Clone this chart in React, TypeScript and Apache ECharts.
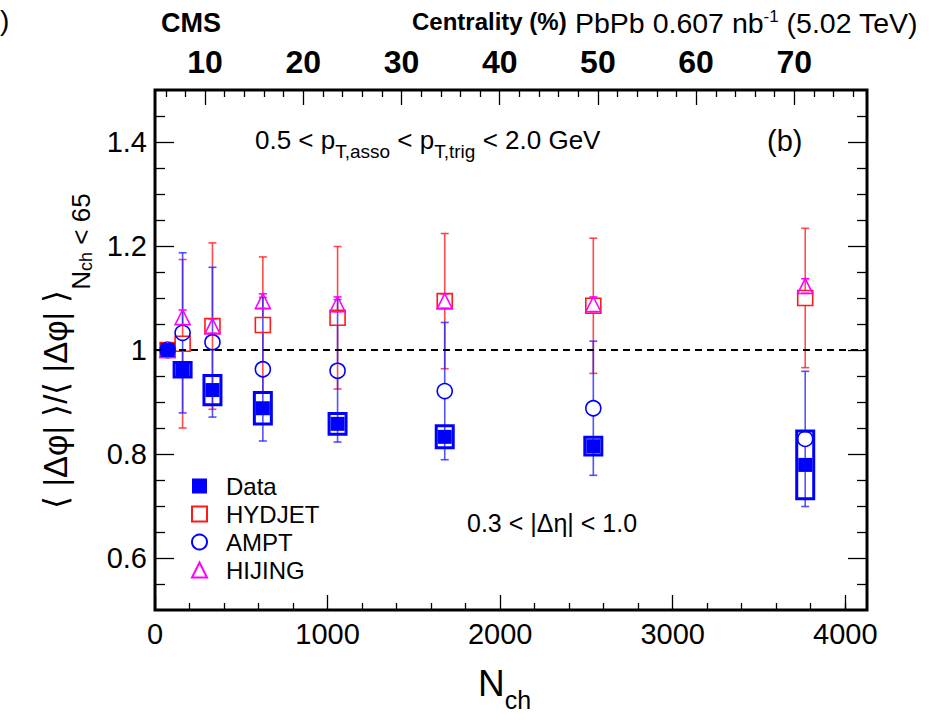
import React, { useEffect, useRef } from 'react';
import * as echarts from 'echarts';

const F = '"Liberation Sans", Arial, Helvetica, sans-serif';

// N_ch positions of the centrality classes
const nch = [73, 160, 333, 625, 1058, 1679, 2540, 3768];
// CMS data
const dataVal = [1.0, 0.962, 0.923, 0.888, 0.858, 0.833, 0.815, 0.779];
const dataSys = [0.0, 0.017, 0.031, 0.033, 0.023, 0.024, 0.020, 0.068];
// Models
const hydjetVal = [1.0, 1.012, 1.046, 1.048, 1.062, 1.094, 1.085, 1.100];
const hydjetErr = [0.0, 0.162, 0.160, 0.131, 0.137, 0.130, 0.130, 0.134];
const amptVal = [1.0, 1.033, 1.015, 0.963, 0.960, 0.921, 0.888, 0.829];
const amptErr = [0.0, 0.154, 0.144, 0.138, 0.137, 0.132, 0.129, 0.130];
const hijingVal = [1.0, 1.063, 1.046, 1.094, 1.088, 1.094, 1.088, 1.123];
const hijingErr = [0.0, 0.014, 0.014, 0.014, 0.014, 0.014, 0.014, 0.014];

// Axis ticks
const xMajor = [0, 1000, 2000, 3000, 4000];
const xMinor = [200, 400, 600, 800, 1200, 1400, 1600, 1800, 2200, 2400, 2600, 2800, 3200, 3400, 3600, 3800, 4000];
const centMajor = [10, 20, 30, 40, 50, 60, 70];
const centMinor = [6, 8, 12, 14, 16, 18, 22, 24, 26, 28, 32, 34, 36, 38, 42, 44, 46, 48, 52, 54, 56, 58, 62, 64, 66, 68, 72, 74, 76];
const yMajor = [0.6, 0.8, 1.0, 1.2, 1.4];
const yMinor = [0.55, 0.65, 0.7, 0.75, 0.85, 0.9, 0.95, 1.05, 1.1, 1.15, 1.25, 1.3, 1.35, 1.45];

const X_MIN = 0, X_MAX = 4126;
const C_MIN = 4.9, C_MAX = 77.4;
const Y_MIN = 0.5, Y_MAX = 1.5;

const RED = '#ff1a1a';
const BLUE = '#0000ff';
const MAG = '#ff00ff';

function errRender(color: string, gap: number) {
  return (params: any, api: any) => {
    const x = api.value(0), y = api.value(1), e = api.value(2);
    if (!e) return { type: 'group', children: [] };
    const c = api.coord([x, y]);
    const t = api.coord([x, y + e]);
    const b = api.coord([x, y - e]);
    const style = { stroke: color, lineWidth: 1.6 };
    const ch: any[] = [];
    if (t[1] < c[1] - gap) ch.push({ type: 'line', shape: { x1: c[0], y1: t[1], x2: c[0], y2: c[1] - gap }, style });
    if (b[1] > c[1] + gap) ch.push({ type: 'line', shape: { x1: c[0], y1: c[1] + gap, x2: c[0], y2: b[1] }, style });
    ch.push({ type: 'line', shape: { x1: c[0] - 4, y1: t[1], x2: c[0] + 4, y2: t[1] }, style });
    ch.push({ type: 'line', shape: { x1: c[0] - 4, y1: b[1], x2: c[0] + 4, y2: b[1] }, style });
    return { type: 'group', children: ch };
  };
}

function boxRender(params: any, api: any) {
  const x = api.value(0), y = api.value(1), s = api.value(2);
  if (!s) return { type: 'group', children: [] };
  const t = api.coord([x, y + s]);
  const b = api.coord([x, y - s]);
  const w = 20, lw = 3;
  return {
    type: 'rect',
    shape: { x: t[0] - w / 2 + lw / 2, y: t[1] + lw / 2, width: w - lw, height: b[1] - t[1] - lw },
    style: { fill: 'none', stroke: BLUE, lineWidth: lw },
  };
}

function valueAxis(extra: any) {
  return {
    type: 'value',
    splitLine: { show: false },
    axisLine: { show: false, onZero: false },
    ...extra,
  };
}

const tickStyle = { color: '#000', width: 1.3 };

export default function App() {
  const ref = useRef<HTMLDivElement>(null);
  useEffect(() => {
    document.body.style.margin = '0';
    const chart = echarts.init(ref.current!, null, { renderer: 'svg' });
    const option: any = {
      animation: false,
      backgroundColor: '#fff',
      grid: { left: 155, right: 71, top: 90, bottom: 110, show: true, borderColor: '#000', borderWidth: 3, backgroundColor: 'transparent' },
      xAxis: [
        valueAxis({
          position: 'bottom', min: X_MIN, max: X_MAX,
          axisTick: { inside: true, length: 15, lineStyle: tickStyle, customValues: xMajor },
          axisLabel: { customValues: xMajor, fontSize: 29, color: '#000', fontFamily: F, margin: 9, formatter: (v: number) => String(v) },
        }),
        valueAxis({
          position: 'bottom', min: X_MIN, max: X_MAX,
          axisTick: { inside: true, length: 7, lineStyle: tickStyle, customValues: xMinor },
          axisLabel: { show: false },
        }),
        valueAxis({
          position: 'top', min: C_MIN, max: C_MAX,
          axisTick: { inside: true, length: 15, lineStyle: tickStyle, customValues: centMajor },
          axisLabel: { customValues: centMajor, fontSize: 32, fontWeight: 'bold', color: '#000', fontFamily: F, margin: 12, formatter: (v: number) => String(v) },
        }),
        valueAxis({
          position: 'top', min: C_MIN, max: C_MAX,
          axisTick: { inside: true, length: 7, lineStyle: tickStyle, customValues: centMinor },
          axisLabel: { show: false },
        }),
      ],
      yAxis: [
        valueAxis({
          position: 'left', min: Y_MIN, max: Y_MAX,
          axisTick: { inside: true, length: 19, lineStyle: tickStyle, customValues: yMajor },
          axisLabel: { customValues: yMajor, fontSize: 29, color: '#000', fontFamily: F, margin: 8, formatter: (v: number) => String(v) },
        }),
        valueAxis({
          position: 'left', min: Y_MIN, max: Y_MAX,
          axisTick: { inside: true, length: 10, lineStyle: tickStyle, customValues: yMinor },
          axisLabel: { show: false },
        }),
        valueAxis({
          position: 'right', min: Y_MIN, max: Y_MAX,
          axisTick: { inside: true, length: 19, lineStyle: tickStyle, customValues: yMajor },
          axisLabel: { show: false },
        }),
        valueAxis({
          position: 'right', min: Y_MIN, max: Y_MAX,
          axisTick: { inside: true, length: 10, lineStyle: tickStyle, customValues: yMinor },
          axisLabel: { show: false },
        }),
      ],
      legend: {
        data: ['Data', 'HYDJET', 'AMPT', 'HIJING'],
        left: 191, top: 474, orient: 'vertical', itemWidth: 15, itemHeight: 15, itemGap: 4,
        selectedMode: false, padding: 0,
        textStyle: { fontSize: 24, lineHeight: 24, color: '#000', fontFamily: F, padding: [0, 0, 0, 14] },
      },
      series: [
        {
          name: 'ref', type: 'line', data: [], z: 1,
          markLine: {
            silent: true, symbol: 'none', label: { show: false },
            lineStyle: { type: [7, 5], color: '#000', width: 2.2 },
            data: [{ yAxis: 1 }],
          },
        },
        {
          name: 'hydjetErr', type: 'custom', z: 2,
          renderItem: errRender('rgba(255,30,30,0.8)', 7.5),
          data: nch.map((x, i) => [x, hydjetVal[i], hydjetErr[i]]),
        },
        {
          name: 'amptErr', type: 'custom', z: 2,
          renderItem: errRender('rgba(40,40,255,0.8)', 7.5),
          data: nch.map((x, i) => [x, amptVal[i], amptErr[i]]),
        },
        {
          name: 'hijingErr', type: 'custom', z: 2,
          renderItem: errRender(MAG, 7.5),
          data: nch.map((x, i) => [x, hijingVal[i], hijingErr[i]]),
        },
        {
          name: 'dataBox', type: 'custom', z: 3,
          renderItem: boxRender,
          data: nch.map((x, i) => [x, dataVal[i], dataSys[i]]),
        },
        {
          name: 'HYDJET', type: 'scatter', z: 4, symbol: 'rect', symbolSize: 15,
          itemStyle: { color: 'rgba(255,255,255,0)', borderColor: RED, borderWidth: 1.6, opacity: 1 },
          data: nch.map((x, i) => [x, hydjetVal[i]]),
        },
        {
          name: 'AMPT', type: 'scatter', z: 4, symbol: 'circle', symbolSize: 15,
          itemStyle: { color: 'rgba(255,255,255,0)', borderColor: BLUE, borderWidth: 1.6, opacity: 1 },
          data: nch.map((x, i) => [x, amptVal[i]]),
        },
        {
          name: 'HIJING', type: 'scatter', z: 4, symbol: 'triangle', symbolSize: 15,
          itemStyle: { color: 'rgba(255,255,255,0)', borderColor: MAG, borderWidth: 1.6, opacity: 1 },
          data: nch.map((x, i) => [x, hijingVal[i]]),
        },
        {
          name: 'Data', type: 'scatter', z: 5, symbol: 'rect', symbolSize: 14,
          itemStyle: { color: BLUE, opacity: 1 },
          data: nch.map((x, i) => [x, dataVal[i]]),
        },
      ],
      graphic: [
        { type: 'text', x: 0, y: 20, style: { text: ')', fontSize: 28, fontFamily: F, fill: '#000', align: 'left', verticalAlign: 'middle', textAlign: 'left', textVerticalAlign: 'middle' } },
        { type: 'text', x: 161, y: 23, style: { text: 'CMS', fontSize: 27, fontWeight: 'bold', fontFamily: F, fill: '#000', align: 'left', verticalAlign: 'middle', textAlign: 'left', textVerticalAlign: 'middle' } },
        { type: 'text', x: 412, y: 21, style: { text: 'Centrality (%)', fontSize: 24, fontWeight: 'bold', fontFamily: F, fill: '#000', align: 'left', verticalAlign: 'middle', textAlign: 'left', textVerticalAlign: 'middle' } },
        {
          type: 'text', x: 575, y: 8,
          style: {
            text: '{m|PbPb 0.607 nb}{s|-1}{m| (5.02 TeV)}',
            align: 'left', verticalAlign: 'top', textAlign: 'left', textVerticalAlign: 'top',
            rich: {
              m: { fontSize: 28.5, lineHeight: 29, fontFamily: F, fill: '#000', color: '#000', verticalAlign: 'bottom' },
              s: { fontSize: 17, lineHeight: 17, fontFamily: F, fill: '#000', color: '#000', verticalAlign: 'top' },
            },
          },
        },
        {
          type: 'text', x: 255, y: 127,
          style: {
            text: '{m|0.5 < p}{s|T,asso}{m| < p}{s|T,trig}{m| < 2.0 GeV}',
            align: 'left', verticalAlign: 'top', textAlign: 'left', textVerticalAlign: 'top',
            rich: {
              m: { fontSize: 26, lineHeight: 26, fontFamily: F, color: '#000', verticalAlign: 'top' },
              s: { fontSize: 19, lineHeight: 19, fontFamily: F, color: '#000', verticalAlign: 'top', padding: [15, 0, 0, 0] },
            },
          },
        },
        { type: 'text', x: 767, y: 141, style: { text: '(b)', fontSize: 29, fontFamily: F, fill: '#000', align: 'left', verticalAlign: 'middle', textAlign: 'left', textVerticalAlign: 'middle' } },
        { type: 'text', x: 467, y: 523, style: { text: '0.3 < |Δη| < 1.0', fontSize: 25, fontFamily: F, fill: '#000', align: 'left', verticalAlign: 'middle', textAlign: 'left', textVerticalAlign: 'middle' } },
        {
          type: 'text', x: 478, y: 665,
          style: {
            text: '{n|N}{c|ch}',
            align: 'left', verticalAlign: 'top', textAlign: 'left', textVerticalAlign: 'top',
            rich: {
              n: { fontSize: 37, lineHeight: 37, fontFamily: F, color: '#000', verticalAlign: 'top' },
              c: { fontSize: 25, lineHeight: 25, fontFamily: F, color: '#000', verticalAlign: 'top', padding: [22, 0, 0, 0] },
            },
          },
        },
        {
          type: 'text', x: 55, y: 351, rotation: Math.PI / 2,
          style: {
            text: '{m|⟨ |Δφ| ⟩/⟨ |Δφ| ⟩}{n|N}{c|ch}{n| < 65}',
            align: 'center', verticalAlign: 'middle', textAlign: 'center', textVerticalAlign: 'middle',
            rich: {
              m: { fontSize: 33, lineHeight: 33, fontFamily: F, color: '#000', verticalAlign: 'top' },
              n: { fontSize: 26, lineHeight: 26, fontFamily: F, color: '#000', verticalAlign: 'top', padding: [29, 0, 0, 0] },
              c: { fontSize: 18, lineHeight: 18, fontFamily: F, color: '#000', verticalAlign: 'top', padding: [38, 0, 0, 0] },
            },
          },
        },
      ],
    };
    chart.setOption(option);
    return () => chart.dispose();
  }, []);
  return <div ref={ref} style={{ width: 938, height: 720 }} />;
}
